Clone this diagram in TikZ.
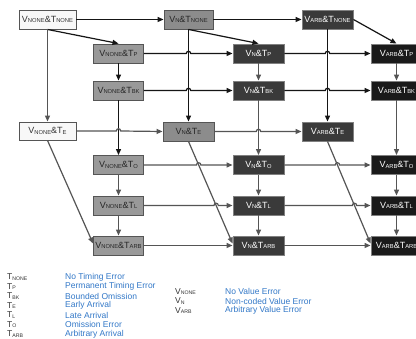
\documentclass[tikz,border=0pt]{standalone}
\usepackage{fontspec}
\setmainfont{Liberation Sans}
\usetikzlibrary{arrows.meta,calc}
\definecolor{lnblack}{HTML}{151515}
\definecolor{lngray}{HTML}{555555}
\definecolor{fwhite}{HTML}{F8F8F8}
\definecolor{fgrayA}{HTML}{8C8C8C}
\definecolor{fgrayB}{HTML}{999999}
\definecolor{fdark}{HTML}{3A3A3A}
\definecolor{fblack}{HTML}{1A1A1A}
\definecolor{legblue}{RGB}{50,120,200}
\definecolor{legtxt}{HTML}{333333}
\newcommand\lsub[1]{\raisebox{-0.6pt}{\fontsize{5.8}{5.8}\selectfont #1}}
\newcommand\lgsub[1]{\raisebox{-0.6pt}{\fontsize{5.2}{5.2}\selectfont #1}}
\begin{document}
\begin{tikzpicture}[x=1pt,y=-1pt,
  box/.style={draw=#1, line width=0.9pt, minimum height=19pt, inner sep=1pt,
    font=\fontsize{9}{9}\selectfont, anchor=center},
  wbox/.style={box=lngray, fill=fwhite, text=legtxt, minimum width=57pt},
  gboxA/.style={box=lngray, fill=fgrayA, text=black!85, minimum width=49pt},
  gboxB/.style={box=lngray, fill=fgrayB, text=black!85, minimum width=50pt},
  dbox/.style={box=gray, fill=fdark, text=white, minimum width=51pt},
  bbox/.style={box=gray, fill=fblack, text=white, minimum width=51pt},
  blk/.style={draw=lnblack, line width=1.2pt, -{Triangle[length=6pt,width=5pt]}},
  gry/.style={draw=lngray, line width=1.2pt, -{Triangle[length=6pt,width=5pt]}},
  legl/.style={anchor=west, inner sep=0pt, text=legtxt, font=\fontsize{8.5}{8.5}\selectfont},
  legd/.style={anchor=west, inner sep=0pt, text=legblue, font=\fontsize{8.5}{8.5}\selectfont}]
\useasboundingbox[fill=white] (0,0) rectangle (416,339);
% front layer
\node[wbox] (A1) at (47.5,19.5) {V\lsub{NONE}\&T\lsub{NONE}};
\node[wbox, minimum height=18pt] (AE) at (47.5,131) {V\lsub{NONE}\&T\lsub{E}};
\node[gboxA] (C1) at (188.5,19.5) {V\lsub{N}\&T\lsub{NONE}};
\node[gboxA, minimum width=51pt] (CE) at (188.5,131.5) {V\lsub{N}\&T\lsub{E}};
\node[dbox] (E1) at (327.5,19.5) {V\lsub{ARB}\&T\lsub{NONE}};
\node[dbox] (EE) at (327.5,131.5) {V\lsub{ARB}\&T\lsub{E}};
% back layer
\node[gboxB] (BP) at (118.5,53.5) {V\lsub{NONE}\&T\lsub{P}};
\node[gboxB] (BBK) at (118.5,90.5) {V\lsub{NONE}\&T\lsub{BK}};
\node[gboxB] (BO) at (118.5,165) {V\lsub{NONE}\&T\lsub{O}};
\node[gboxB] (BL) at (118.5,205.5) {V\lsub{NONE}\&T\lsub{L}};
\node[gboxB] (BARB) at (118.5,245.5) {V\lsub{NONE}\&T\lsub{ARB}};
\node[dbox] (DP) at (258.5,53.5) {V\lsub{N}\&T\lsub{P}};
\node[dbox] (DBK) at (258.5,90.5) {V\lsub{N}\&T\lsub{BK}};
\node[dbox] (DO) at (258.5,165) {V\lsub{N}\&T\lsub{O}};
\node[dbox] (DL) at (258.5,205.5) {V\lsub{N}\&T\lsub{L}};
\node[dbox] (DARB) at (258.5,245.5) {V\lsub{N}\&T\lsub{ARB}};
\node[bbox] (FP) at (396.5,53.5) {V\lsub{ARB}\&T\lsub{P}};
\node[bbox] (FBK) at (396.5,90.5) {V\lsub{ARB}\&T\lsub{BK}};
\node[bbox] (FO) at (396.5,165) {V\lsub{ARB}\&T\lsub{O}};
\node[bbox] (FL) at (396.5,205.5) {V\lsub{ARB}\&T\lsub{L}};
\node[bbox] (FARB) at (396.5,245.5) {V\lsub{ARB}\&T\lsub{ARB}};
% diagonal targets
\coordinate (tB) at ([yshift=2pt]BARB.west);
\coordinate (tD) at ([yshift=2pt]DARB.west);
\coordinate (tF) at ([yshift=2pt]FARB.west);
% hop points
\coordinate (h1) at (C1 |- BP);
\coordinate (h2) at (E1 |- DP);
\coordinate (h3) at (C1 |- BBK);
\coordinate (h4) at (E1 |- DBK);
\coordinate (h5) at (BBK |- AE);
\coordinate (h6) at (DBK |- CE);
\coordinate (h7) at (intersection of CE.south--tD and BO.east--DO.west);
\coordinate (h8) at (intersection of EE.south--tF and DO.east--FO.west);
\coordinate (h9) at (intersection of CE.south--tD and BL.east--DL.west);
\coordinate (h10) at (intersection of EE.south--tF and DL.east--FL.west);
\newcommand\hopedge[4]{%
  \draw[#1] (#2.east) -- ([xshift=-2.2pt]#4) .. controls ([xshift=-2.2pt,yshift=3pt]#4) and ([xshift=2.2pt,yshift=3pt]#4) .. ([xshift=2.2pt]#4) -- (#3.west);}
% black connectors
\draw[blk] (A1) -- (C1);
\draw[blk] (C1) -- (E1);
\draw[blk] (A1.south) -- (BP.north);
\draw[blk] (C1.south) -- (DP.north);
\draw[blk] (E1.east) -- (FP.north);
\draw[blk] (C1) -- (CE);
\draw[blk] (E1) -- (EE);
\draw[blk] (BP) -- (BBK);
\draw[blk] (BBK) -- (BO);
\hopedge{blk}{BP}{DP}{h1}
\hopedge{blk}{DP}{FP}{h2}
\hopedge{blk}{BBK}{DBK}{h3}
\hopedge{blk}{DBK}{FBK}{h4}
% gray connectors
\draw[gry] (A1) -- (AE);
\hopedge{gry}{AE}{CE}{h5}
\hopedge{gry}{CE}{EE}{h6}
\draw[gry] (DP) -- (DBK);
\draw[gry] (FP) -- (FBK);
\draw[gry] (DBK) -- (DO);
\draw[gry] (FBK) -- (FO);
\draw[gry] (AE.south) -- (tB);
\draw[gry] (CE.south) -- (tD);
\draw[gry] (EE.south) -- (tF);
\draw[gry] (BO) -- (BL);
\draw[gry] (BL) -- (BARB);
\draw[gry] (DO) -- (DL);
\draw[gry] (DL) -- (DARB);
\draw[gry] (FO) -- (FL);
\draw[gry] (FL) -- (FARB);
\hopedge{gry}{BO}{DO}{h7}
\hopedge{gry}{DO}{FO}{h8}
\hopedge{gry}{BL}{DL}{h9}
\hopedge{gry}{DL}{FL}{h10}
\draw[gry] (BARB) -- (DARB);
\draw[gry] (DARB) -- (FARB);
% legend
\node[legl] (l1) at (7,277) {T\lgsub{NONE}};
\node[legl] (l2) at (7,286.5) {T\lgsub{P}};
\node[legl] (l3) at (7,296) {T\lgsub{BK}};
\node[legl] (l4) at (7,305.5) {T\lgsub{E}};
\node[legl] (l5) at (7,315) {T\lgsub{L}};
\node[legl] (l6) at (7,324.5) {T\lgsub{O}};
\node[legl] (l7) at (7,334) {T\lgsub{ARB}};
\node[legd] (d1) at (65,277) {No Timing Error};
\node[legd] (d2) at (65,286.5) {Permanent Timing Error};
\node[legd] (d3) at (65,296) {Bounded Omission};
\node[legd] (d4) at (65,305.5) {Early Arrival};
\node[legd] (d5) at (65,315) {Late Arrival};
\node[legd] (d6) at (65,324.5) {Omission Error};
\node[legd] (d7) at (65,334) {Arbitrary Arrival};
\node[legl] (v1) at (175,291.5) {V\lgsub{NONE}};
\node[legl] (v2) at (175,301) {V\lgsub{N}};
\node[legl] (v3) at (175,310.5) {V\lgsub{ARB}};
\node[legd] (w1) at (225,291.5) {No Value Error};
\node[legd] (w2) at (225,301) {Non-coded Value Error};
\node[legd] (w3) at (225,310.5) {Arbitrary Value Error};
\end{tikzpicture}
\end{document}
